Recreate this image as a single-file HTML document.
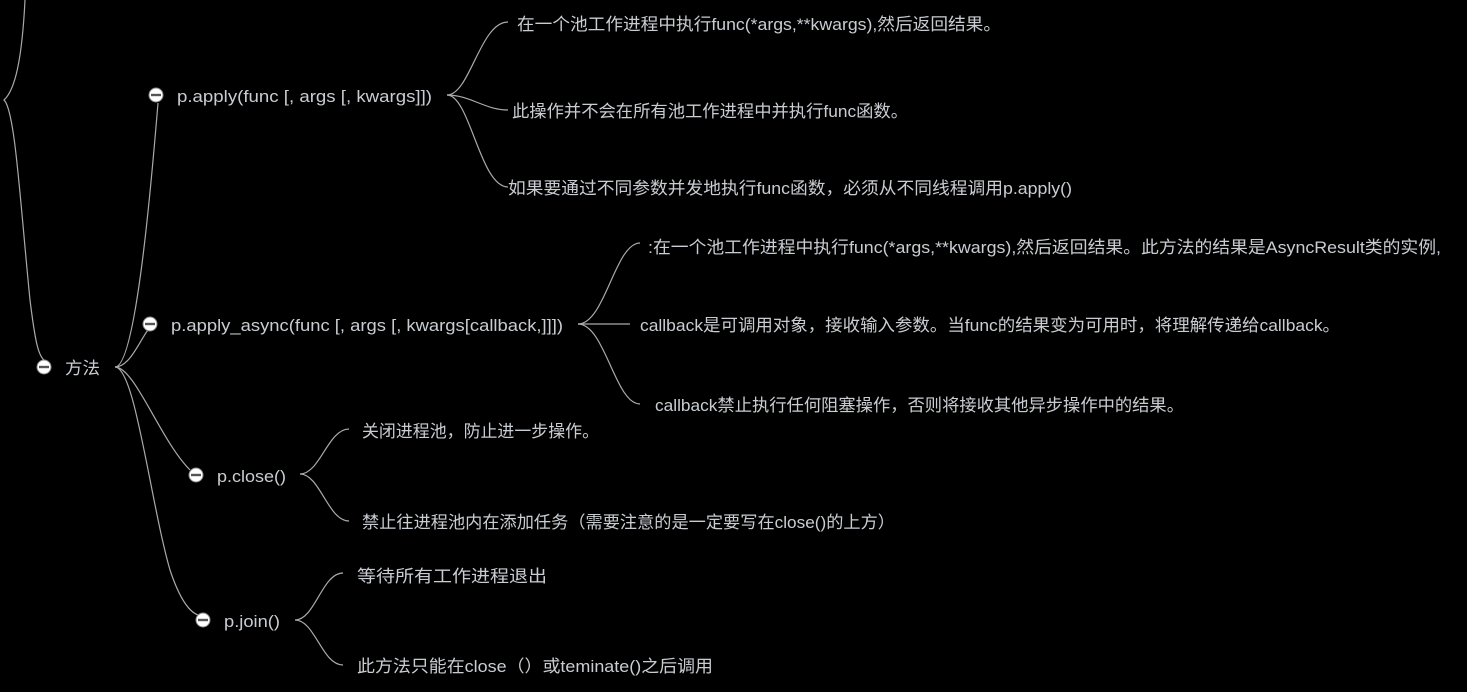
<!DOCTYPE html>
<html><head><meta charset="utf-8"><style>
html,body{margin:0;padding:0;background:#000;width:1467px;height:692px;overflow:hidden}
svg text{font-family:"Liberation Sans","Microsoft YaHei","Noto Sans CJK SC",sans-serif;font-size:17px;fill:#c9cdd2}
</style></head><body>
<svg width="1467" height="692" viewBox="0 0 1467 692">
<defs>
<g id="c"><circle r="7" fill="#fff" stroke="#888" stroke-width="1"/><rect x="-5" y="-1.2" width="10" height="2.4" fill="#555"/></g>
</defs>
<g fill="none" stroke="#aaa" stroke-width="1.2">
<path d="M25,0 C22,60 15,90 4,100 C15,110 20,200 30,300 C35,340 38,355 44,360"/>
<path d="M115,367 C135,367 150,200 158,103"/>
<path d="M115,367 C130,367 140,340 148,330"/>
<path d="M115,367 C135,367 160,440 190,470"/>
<path d="M115,367 C135,367 150,500 170,570 C180,600 190,612 198,615"/>
<path d="M447,95 C470,95 480,22 508,22"/>
<path d="M447,95 C470,95 485,110 508,110"/>
<path d="M447,95 C470,95 480,187 508,187"/>
<path d="M578,324 C605,324 615,243 640,243"/>
<path d="M578,324 L630,324"/>
<path d="M578,324 C605,324 615,404 640,404"/>
<path d="M300,474 C320,474 328,429 349,429"/>
<path d="M300,474 C320,474 328,521 349,521"/>
<path d="M295,620 C315,620 322,573 343,573"/>
<path d="M295,620 C315,620 322,665 343,665"/>
</g>
<use href="#c" x="44" y="367"/>
<use href="#c" x="156" y="95"/>
<use href="#c" x="150" y="324"/>
<use href="#c" x="196" y="475"/>
<use href="#c" x="203" y="620"/>
<text x="65" y="374" textLength="35" lengthAdjust="spacingAndGlyphs">方法</text>
<text x="177" y="102" textLength="255" lengthAdjust="spacingAndGlyphs">p.apply(func [, args [, kwargs]])</text>
<text x="171" y="331" textLength="392" lengthAdjust="spacingAndGlyphs">p.apply_async(func [, args [, kwargs[callback,]]])</text>
<text x="217" y="482" textLength="69" lengthAdjust="spacingAndGlyphs">p.close()</text>
<text x="224" y="627" textLength="56" lengthAdjust="spacingAndGlyphs">p.join()</text>
<text x="517" y="30" textLength="484" lengthAdjust="spacingAndGlyphs">在一个池工作进程中执行func(*args,**kwargs),然后返回结果。</text>
<text x="512" y="117" textLength="396" lengthAdjust="spacingAndGlyphs">此操作并不会在所有池工作进程中并执行func函数。</text>
<text x="508" y="194" textLength="564" lengthAdjust="spacingAndGlyphs">如果要通过不同参数并发地执行func函数，必须从不同线程调用p.apply()</text>
<text x="648" y="253" textLength="793" lengthAdjust="spacingAndGlyphs">:在一个池工作进程中执行func(*args,**kwargs),然后返回结果。此方法的结果是AsyncResult类的实例,</text>
<text x="640" y="331" textLength="700" lengthAdjust="spacingAndGlyphs">callback是可调用对象，接收输入参数。当func的结果变为可用时，将理解传递给callback。</text>
<text x="655" y="411" textLength="529" lengthAdjust="spacingAndGlyphs">callback禁止执行任何阻塞操作，否则将接收其他异步操作中的结果。</text>
<text x="362" y="437" textLength="237" lengthAdjust="spacingAndGlyphs">关闭进程池，防止进一步操作。</text>
<text x="362" y="528" textLength="533" lengthAdjust="spacingAndGlyphs">禁止往进程池内在添加任务（需要注意的是一定要写在close()的上方）</text>
<text x="357" y="582" textLength="190" lengthAdjust="spacingAndGlyphs">等待所有工作进程退出</text>
<text x="357" y="672" textLength="356" lengthAdjust="spacingAndGlyphs">此方法只能在close（）或teminate()之后调用</text>
</svg>
</body></html>
